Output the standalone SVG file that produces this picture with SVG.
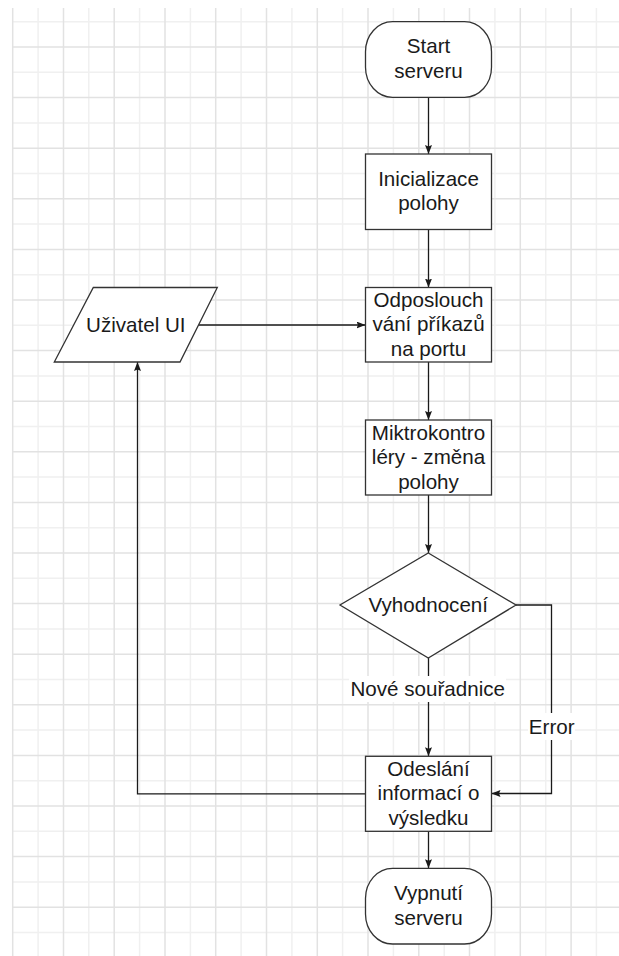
<svg xmlns="http://www.w3.org/2000/svg" width="619" height="956" viewBox="0 0 619 956">
<style>
.node{fill:#fff;stroke:#333;stroke-width:1.3}
.t{font-family:"Liberation Sans",Arial,sans-serif;font-size:20.6px;fill:#1a1a1a;text-anchor:middle}
.edge{fill:none;stroke:#1a1a1a;stroke-width:1.3}
.gl{fill:none;stroke:#f0f0f0;stroke-width:1.5}
.gd{fill:none;stroke:#e2e2e2;stroke-width:1.5}
</style>
<defs>
<marker id="arr" markerUnits="userSpaceOnUse" markerWidth="10" markerHeight="8" refX="9" refY="3.5" orient="auto">
<path d="M0,0 L9,3.5 L0,7 L1.5,3.5 z" fill="#1a1a1a"/>
</marker>
</defs>
<rect x="0" y="0" width="619" height="956" fill="#fff"/>
<g id="grid">
<path class="gl" d="M38.1 8V956M88.8 8V956M139.6 8V956M190.4 8V956M241.1 8V956M291.9 8V956M342.6 8V956M393.4 8V956M444.2 8V956M494.9 8V956M545.7 8V956M596.4 8V956
M12 21.7H619M12 72.3H619M12 122.9H619M12 173.5H619M12 224.1H619M12 274.7H619M12 325.3H619M12 375.9H619M12 426.5H619M12 477.1H619M12 527.7H619M12 578.3H619M12 628.9H619M12 679.5H619M12 730.1H619M12 780.7H619M12 831.3H619M12 881.9H619M12 932.5H619"/>
<path class="gd" d="M12.7 8V956M63.5 8V956M114.2 8V956M165 8V956M215.7 8V956M266.5 8V956M317.3 8V956M368 8V956M418.8 8V956M469.5 8V956M520.3 8V956M571.1 8V956
M12 47H619M12 97.6H619M12 148.2H619M12 198.8H619M12 249.4H619M12 300H619M12 350.6H619M12 401.2H619M12 451.8H619M12 502.4H619M12 553H619M12 603.6H619M12 654.2H619M12 704.8H619M12 755.4H619M12 806H619M12 856.6H619M12 907.2H619"/>
</g>
<g id="connectors">
<path class="edge" d="M428.5 97.3V154" marker-end="url(#arr)"/>
<path class="edge" d="M428.5 229.5V287.5" marker-end="url(#arr)"/>
<path class="edge" d="M198.5 325H365.5" marker-end="url(#arr)"/>
<path class="edge" d="M428.5 362V420" marker-end="url(#arr)"/>
<path class="edge" d="M428.5 495V553" marker-end="url(#arr)"/>
<path class="edge" d="M428.5 658V756.3" marker-end="url(#arr)"/>
<path class="edge" d="M516 605H551.5V793.5H491.5" marker-end="url(#arr)"/>
<path class="edge" d="M365.5 793.8H137.5V362" marker-end="url(#arr)"/>
<path class="edge" d="M428.5 831.3V868.3" marker-end="url(#arr)"/>
<rect x="349" y="676" width="157" height="26" fill="#fff"/>
<text class="t" x="427.7" y="696.3">Nové souřadnice</text>
<rect x="528" y="713" width="47" height="27" fill="#fff"/>
<text class="t" x="551.7" y="734">Error</text>
</g>
<g id="start">
<rect class="node" x="365.5" y="21.7" width="126" height="75.6" rx="27" ry="30"/>
<text class="t" x="428.5" y="53.3">Start</text>
<text class="t" x="428.5" y="77.9">serveru</text>
</g>
<g id="init">
<rect class="node" x="365.5" y="154" width="126" height="75.5"/>
<text class="t" x="428.5" y="185.7">Inicializace</text>
<text class="t" x="428.5" y="210.3">polohy</text>
</g>
<g id="user">
<polygon class="node" points="93.3,287.5 217.3,287.5 180,362 54.3,362"/>
<text class="t" x="135.8" y="331.8">Uživatel UI</text>
</g>
<g id="listen">
<rect class="node" x="365.5" y="287.5" width="126" height="74.5"/>
<text class="t" x="428.5" y="306.7">Odposlouch</text>
<text class="t" x="428.5" y="331.3">vání příkazů</text>
<text class="t" x="428.5" y="355.9">na portu</text>
</g>
<g id="mcu">
<rect class="node" x="365.5" y="420" width="126" height="75"/>
<text class="t" x="428.5" y="439.5">Miktrokontro</text>
<text class="t" x="428.5" y="464.1">léry - změna</text>
<text class="t" x="428.5" y="488.7">polohy</text>
</g>
<g id="eval">
<polygon class="node" points="428.3,553 516,605 428.3,658 340,605"/>
<text class="t" x="428.3" y="611.7">Vyhodnocení</text>
</g>
<g id="send">
<rect class="node" x="365.5" y="756.3" width="126" height="75"/>
<text class="t" x="428.5" y="775.8">Odeslání</text>
<text class="t" x="428.5" y="800.4">informací o</text>
<text class="t" x="428.5" y="825">výsledku</text>
</g>
<g id="stop">
<rect class="node" x="365.5" y="868.3" width="126" height="75.7" rx="27" ry="30"/>
<text class="t" x="428.5" y="900">Vypnutí</text>
<text class="t" x="428.5" y="924.6">serveru</text>
</g>
</svg>
